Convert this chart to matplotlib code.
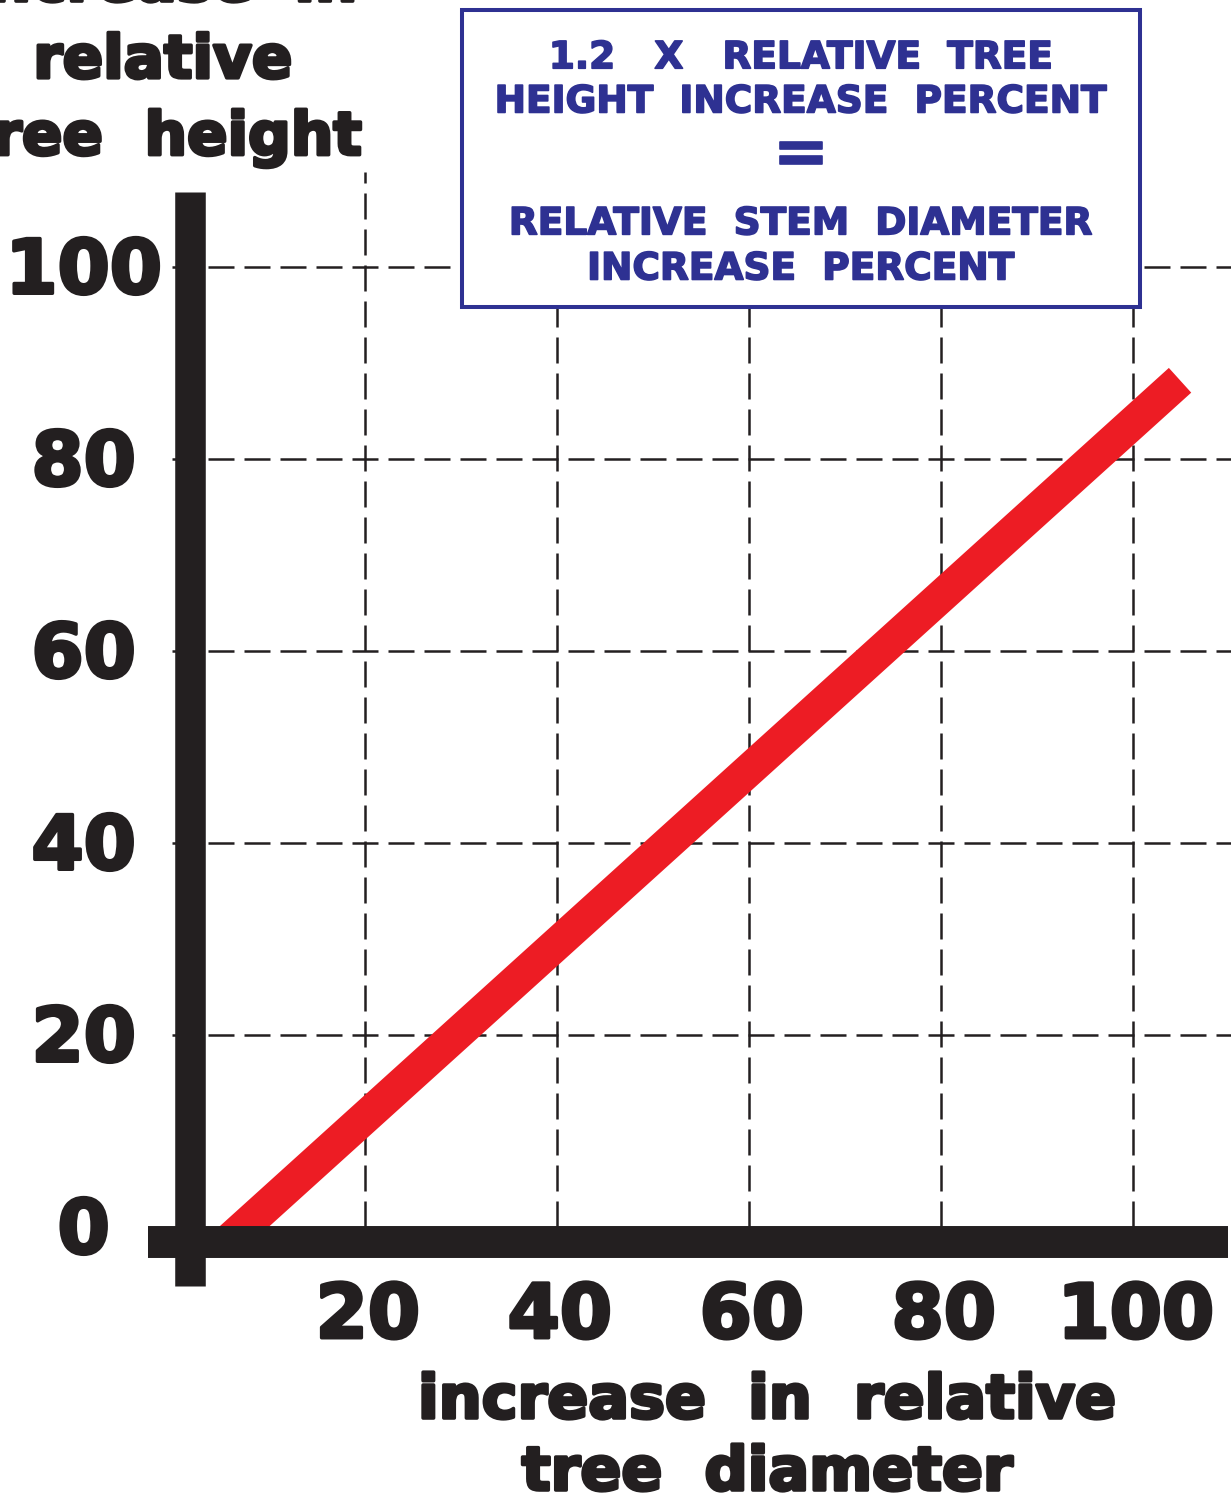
import matplotlib
matplotlib.use("Agg")
import matplotlib.pyplot as plt
import matplotlib.patheffects as pe
from matplotlib.patches import Rectangle

# data
grid_ticks = [20, 40, 60, 80, 100]
y_tick_labels = ["0", "20", "40", "60", "80", "100"]
y_tick_values = [0, 20, 40, 60, 80, 100]
x_tick_labels = ["20", "40", "60", "80", "100"]
diameter = [5.6, 104.9]
height = [-1.6, 88.2]

ink = "#231f20"
red = "#ed1c24"
blue = "#2e3192"
font = "DejaVu Sans"
heavy = [pe.withStroke(linewidth=2.5, foreground=ink)]
heavy_blue = [pe.withStroke(linewidth=1.2, foreground=blue)]

# 9.6 px per unit, origin at (173, 1227) px
fig = plt.figure(figsize=(12.31, 14.98), dpi=100)
ax = fig.add_axes([0, 0, 1, 1])
ax.set_xlim(-173 / 9.6, 1058 / 9.6)
ax.set_ylim(-271 / 9.6, 1227 / 9.6)
ax.axis("off")

# dashed grid
for g in grid_ticks:
    ax.plot([g, g], [0, 109.9], color=ink, lw=1.8, ls=(0, (10.4, 4)), zorder=1)
    ax.plot([-0.1, 110.5], [g, g], color=ink, lw=1.8, ls=(0, (10.4, 4)), zorder=1)

# red relation line (starts under the x axis bar)
ax.plot(diameter, height, color=red, lw=24, solid_capstyle="butt", zorder=2)

# thick axes
ax.plot([1.77, 1.77], [-6.1, 107.8], color=ink, lw=22, solid_capstyle="butt", zorder=3)
ax.plot([-2.6, 109.9], [-1.6, -1.6], color=ink, lw=23, solid_capstyle="butt", zorder=3)

# tick labels
for v, lab in zip(y_tick_values, y_tick_labels):
    ax.text(-9.3, v - 0.6, lab, ha="center", va="center", fontsize=54,
            fontweight="bold", family=font, color=ink, path_effects=heavy)
for v, lab in zip(grid_ticks, x_tick_labels):
    ax.text(v + 0.3, -9.4, lab, ha="center", va="center", fontsize=54,
            fontweight="bold", family=font, color=ink, path_effects=heavy)

# axis titles
for y, line in [(127.7, "increase  in"), (119.7, "relative"), (111.7, "tree  height")]:
    ax.text(-1.04, y, line, ha="center", va="baseline", fontsize=43,
            fontweight="bold", family=font, color=ink, path_effects=heavy)
for y, line in [(-19.9, "increase  in  relative"), (-27.4, "tree  diameter")]:
    ax.text(61.9, y, line, ha="center", va="baseline", fontsize=43.5,
            fontweight="bold", family=font, color=ink, path_effects=heavy)

# formula box
ax.add_patch(Rectangle((30.1, 95.8), 70.6, 31.0, facecolor="white",
                       edgecolor=blue, lw=2.9, zorder=4))
box_lines = [(120.7, "1.2   X   RELATIVE  TREE"),
             (116.1, "HEIGHT  INCREASE  PERCENT"),
             (103.4, "RELATIVE  STEM  DIAMETER"),
             (98.7, "INCREASE  PERCENT")]
for y, line in box_lines:
    ax.text(65.4, y, line, ha="center", va="baseline", fontsize=27,
            fontweight="bold", family=font, color=blue, zorder=5,
            path_effects=heavy_blue)
ax.text(65.4, 111.7, "=", ha="center", va="center", fontsize=48,
        fontweight="bold", family=font, color=blue, zorder=5,
        path_effects=heavy_blue)

fig.savefig("out.png", dpi=100)
